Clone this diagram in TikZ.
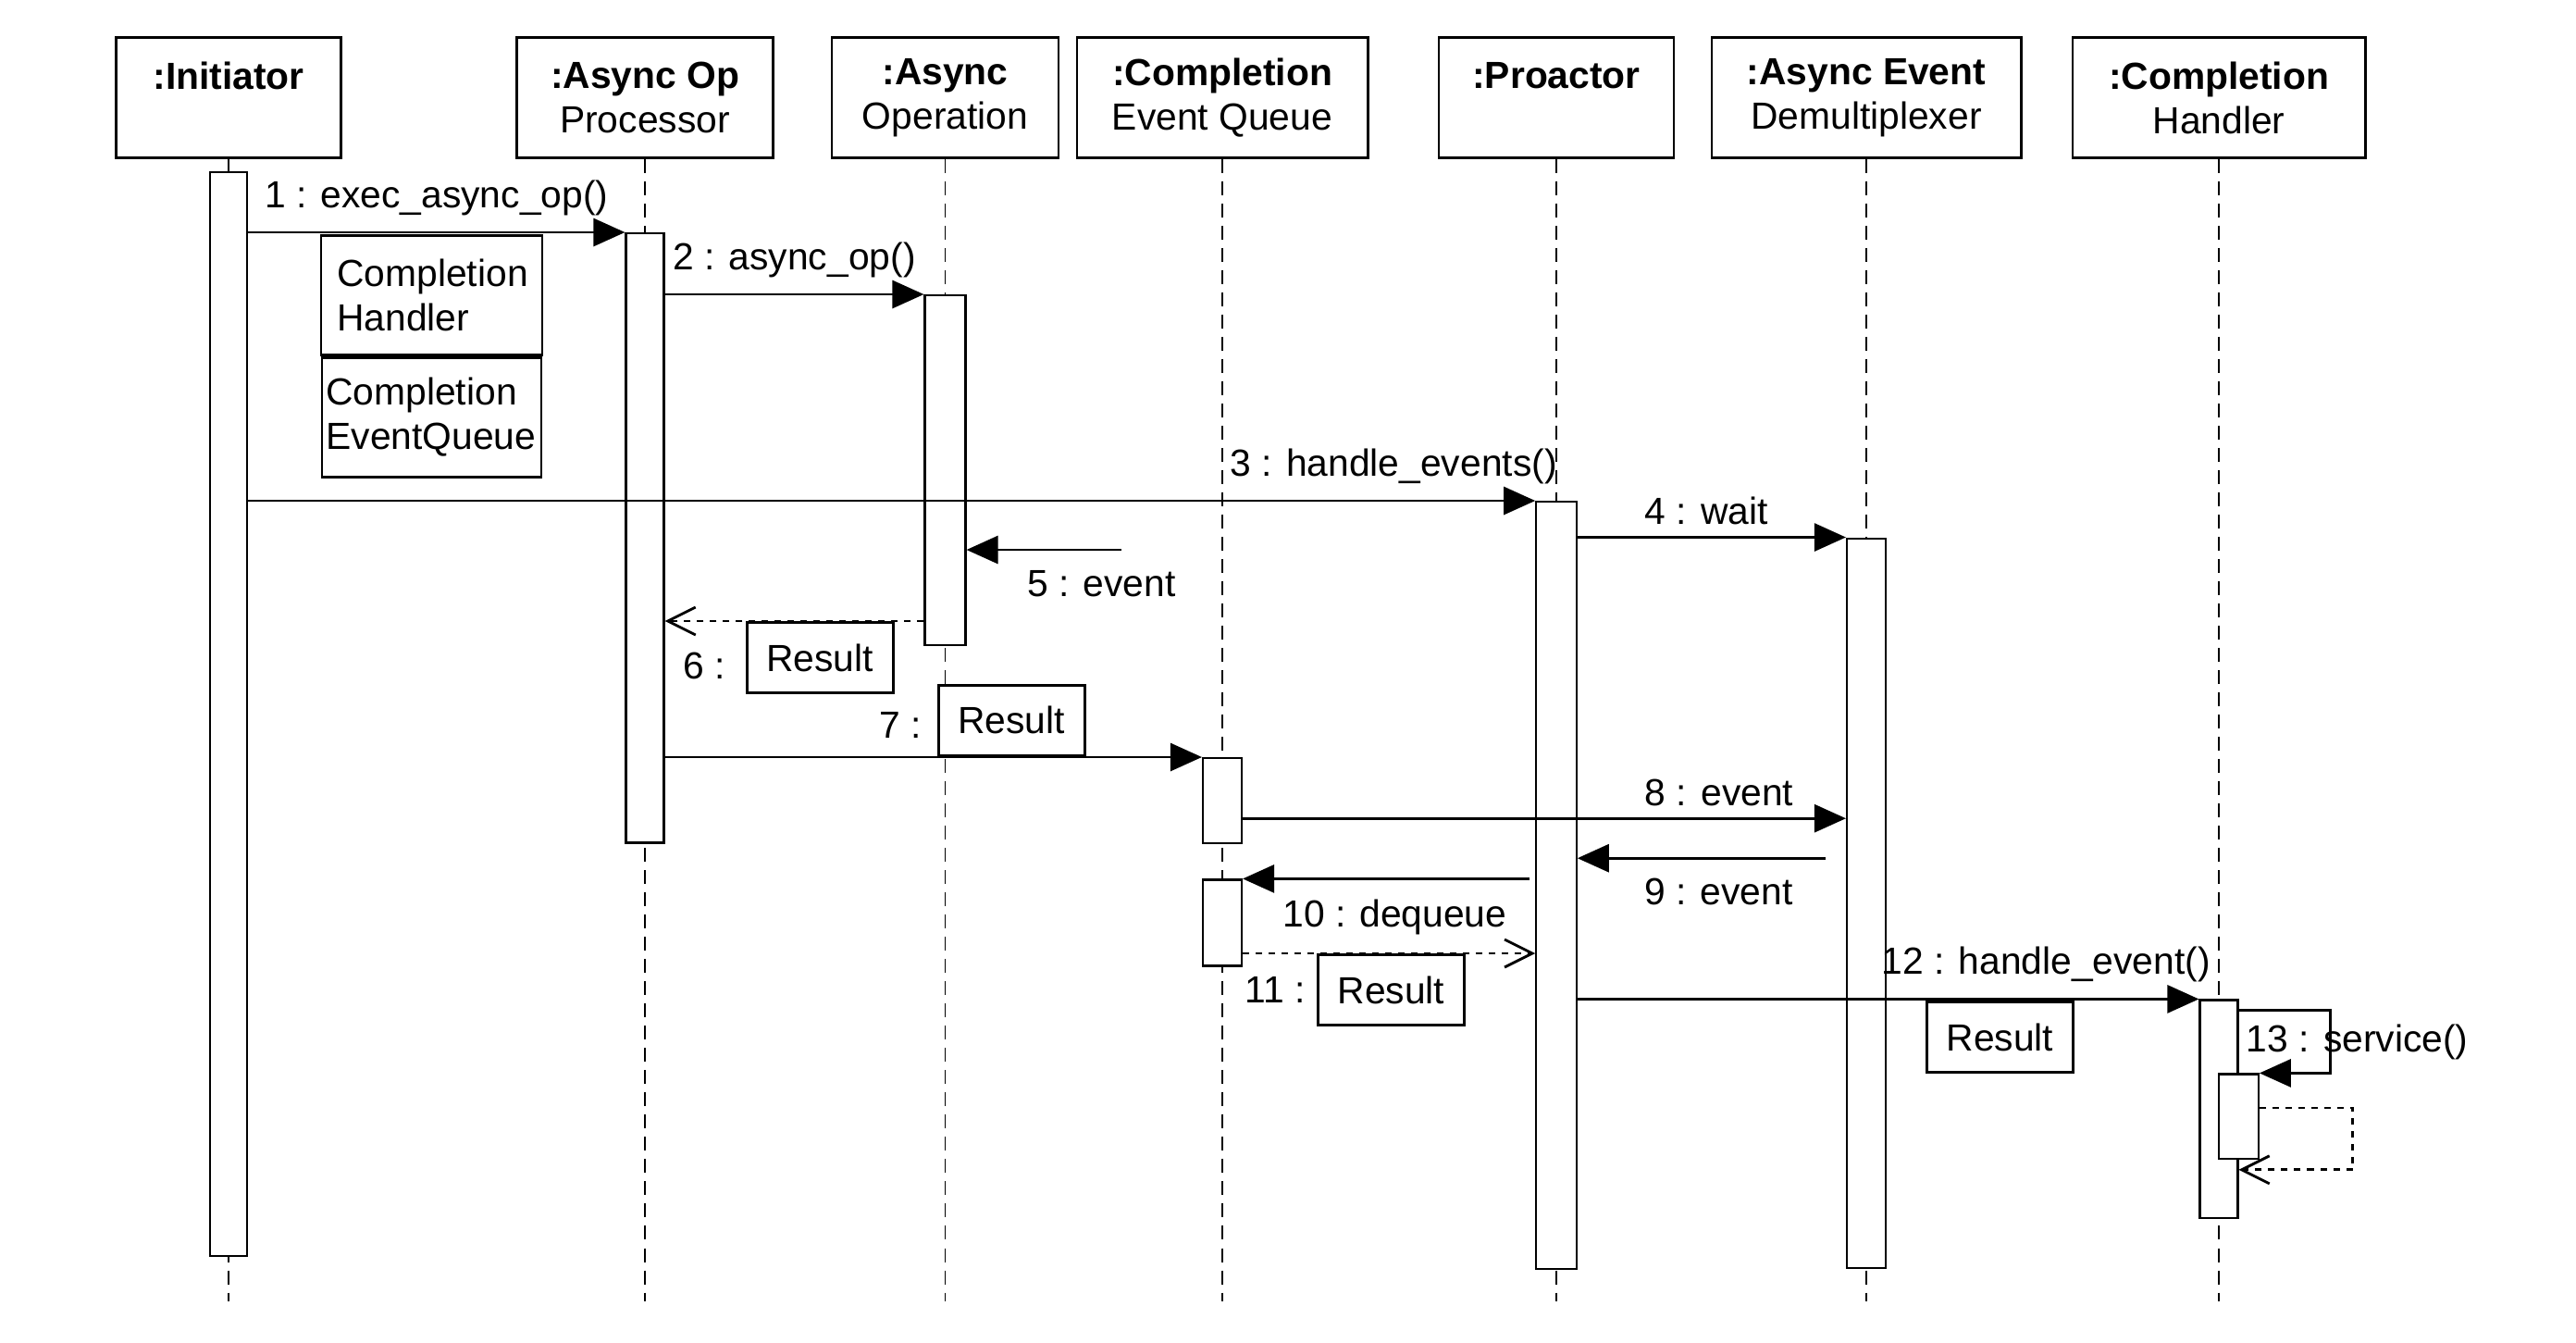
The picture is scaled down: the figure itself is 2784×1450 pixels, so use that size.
\documentclass[tikz,border=0pt]{standalone}
\usepackage{fontspec}
\setmainfont{Liberation Sans}
\usepackage{tikz}
\usetikzlibrary{arrows.meta, positioning}

\begin{document}
\begin{tikzpicture}[x=0.01cm, y=-0.01cm,
    font=\fontsize{11.6}{13.66}\selectfont,
    head/.style={draw, line width=0.8pt, minimum height=1.296cm, align=center, inner sep=0pt},
    bar/.style={draw, fill=white, line width=0.6pt, anchor=north, inner sep=0pt},
    life/.style={line width=0.5pt, dash pattern=on 0.15cm off 0.09cm},
    msg/.style={line width=0.8pt, -{Triangle[length=0.34cm, width=0.3cm]}},
    ret/.style={line width=0.8pt, dash pattern=on 0.07cm off 0.07cm,
                -{Straight Barb[length=0.3cm, width=0.3cm]}},
    obj/.style={draw, fill=white, line width=0.8pt, minimum width=1.58cm, minimum height=0.76cm}]

  \useasboundingbox (0,0) rectangle (2784,1450);

  \node[head, minimum width=2.43cm] (init) at (247,105.6) {\textbf{:Initiator}\\\vphantom{Processor}};
  \node[head, minimum width=2.77cm] (aop) at (697,105.6) {\textbf{:Async Op}\\Processor};
  \node[head, minimum width=2.45cm] (aoper) at (1021.5,105.6) {\textbf{:Async}\\Operation};
  \node[head, minimum width=3.14cm] (ceq) at (1321,105.6) {\textbf{:Completion}\\Event Queue};
  \node[head, minimum width=2.54cm] (pro) at (1682,105.6) {\textbf{:Proactor}\\\vphantom{Processor}};
  \node[head, minimum width=3.34cm] (aed) at (2017,105.6) {\textbf{:Async Event}\\Demultiplexer};
  \node[head, minimum width=3.16cm] (ch) at (2398,105.6) {\textbf{:Completion}\\Handler};

  \draw[life] (init.south) -- (init.south |- 0,1406);
  \draw[life] (aop.south) -- (aop.south |- 0,1406);
  \draw[life] (aoper.south) -- (aoper.south |- 0,1406);
  \draw[life] (ceq.south) -- (ceq.south |- 0,1406);
  \draw[life] (pro.south) -- (pro.south |- 0,1406);
  \draw[life] (aed.south) -- (aed.south |- 0,1406);
  \draw[life] (ch.south) -- (ch.south |- 0,1406);

  \node[bar, minimum width=0.4cm, minimum height=11.7cm] (binit) at (init.south |- 0,185) {};
  \node[bar, minimum width=0.41cm, minimum height=6.58cm] (baop) at (aop.south |- 0,251) {};
  \node[bar, minimum width=0.44cm, minimum height=3.78cm] (baoper) at (aoper.south |- 0,318) {};
  \node[bar, minimum width=0.42cm, minimum height=0.92cm] (bceqa) at (ceq.south |- 0,818) {};
  \node[bar, minimum width=0.42cm, minimum height=0.93cm] (bceqb) at (ceq.south |- 0,949.4) {};
  \node[bar, minimum width=0.435cm, minimum height=8.28cm] (bpro) at (pro.south |- 0,541) {};
  \node[bar, minimum width=0.42cm, minimum height=7.88cm] (baed) at (aed.south |- 0,580.5) {};
  \node[bar, minimum width=0.41cm, minimum height=2.35cm] (bcha) at (ch.south |- 0,1079.4) {};
  \node[bar, minimum width=0.425cm, minimum height=0.915cm] (bchb) at (bcha.east |- 0,1159.4) {};

  \draw[msg] (binit.east |- baop.north) -- node[above=0.05cm] {1 : exec\_async\_op()} (baop.north west);

  \node[obj, anchor=north west, minimum width=2.39cm, minimum height=1.29cm,
        inner xsep=0.175cm, text width=2.04cm, align=left] (chobj) at (345.5,252.8)
        {Completion\\Handler};
  \node[obj, below=0pt of chobj, minimum width=2.37cm, minimum height=1.29cm,
        inner xsep=0.045cm, text width=2.28cm, align=left] (ceqobj)
        {Completion\\EventQueue};

  \draw[msg] (baop.east |- baoper.north) -- node[above=0.05cm] {2 : async\_op()} (baoper.north west);

  \draw[msg] (binit.east |- bpro.north) -- node[above=0.05cm, pos=0.89] {3 : handle\_events()} (bpro.north west);

  \draw[msg] (bpro.east |- baed.north) -- node[above, pos=0.48] {4 : wait} (baed.north west);

  \coordinate (e5) at (1212,594);
  \draw[msg] (e5) -- node[below=0.09cm, pos=0.13] {5 : event} (baoper.east |- e5);

  \node[obj, anchor=north west] (res6) at (805.7,671) {Result};
  \node[left=0.09cm of res6, yshift=-0.09cm] (n6) {6 :};
  \draw[ret] (baoper.west |- res6.north) -- (baop.east |- res6.north);

  \node[obj, anchor=south west] (res7) at (1012.7,817.7) {Result};
  \node[left=0.04cm of res7, yshift=-0.05cm] (n7) {7 :};
  \draw[msg] (baop.east |- bceqa.north) -- (bceqa.north west);

  \draw[msg] (bceqa.east |- 0,884.2) -- node[above, pos=0.79] {8 : event} (baed.west |- 0,884.2);

  \coordinate (e9) at (1972.6,927.2);
  \draw[msg] (e9) -- node[below=0.09cm, pos=0.43] {9 : event} (bpro.east |- e9);

  \coordinate (e10) at (1653,949.4);
  \draw[msg] (e10) -- node[below=0.09cm, pos=0.47] {10 : dequeue} (bceqb.north east);

  \node[obj, anchor=north west] (res11) at (1423,1030) {Result};
  \node[left=0pt of res11] (n11) {11 :};
  \draw[ret] (bceqb.east |- res11.north) -- (bpro.west |- res11.north);

  \draw[msg] (bpro.east |- bcha.north) -- node[above=0.05cm, pos=0.754] {12 : handle\_event()} (bcha.north west);
  \node[obj, anchor=north west] (res12) at (2081,1081) {Result};

  \coordinate (s13) at (2518.7,1091.7);
  \draw[msg] (bcha.east |- s13) -- (s13) |- node[pos=0.25, xshift=0.29cm] {13 : service()} (bchb.north east);

  \coordinate (r14) at (2542.8,1196.9);
  \draw[ret] (bchb.east |- r14) -- (r14) |- (bcha.east |- 0,1263.8);

\end{tikzpicture}
\end{document}
